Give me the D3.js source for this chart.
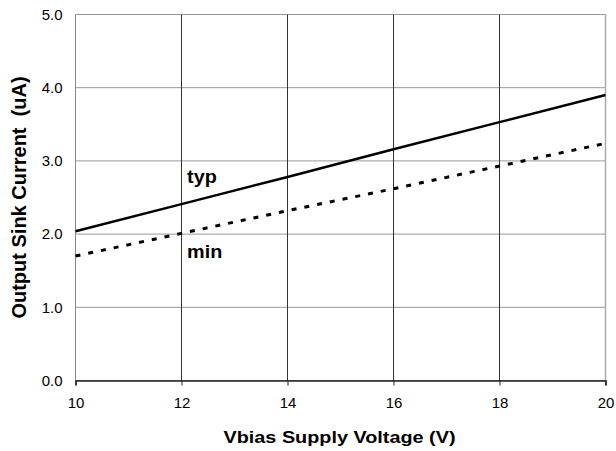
<!DOCTYPE html>
<html>
<head>
<meta charset="utf-8">
<script src="https://cdn.jsdelivr.net/npm/d3@7"></script>
<style>
  html, body { margin: 0; padding: 0; background: #fff; }
  svg { display: block; font-family: "Liberation Sans", Arial, sans-serif; }
</style>
</head>
<body>
<svg id="chart" width="616" height="451"></svg>
<script>
// Supply voltage (V) and sink current (uA)
const voltage = [10, 12, 14, 16, 18, 20];
const typCurrent = [2.04, 2.41, 2.78, 3.16, 3.53, 3.90];
const minCurrent = [1.70, 2.01, 2.32, 2.62, 2.93, 3.24];
const xTicks = [10, 12, 14, 16, 18, 20];
const yTicks = [0, 1, 2, 3, 4, 5];

const margin = { left: 75.5, right: 10.5, top: 14.5, bottom: 70.5 };
const W = 616, H = 451;
const svg = d3.select("#chart");

const x = d3.scaleLinear().domain([10, 20]).range([margin.left, W - margin.right]);
const y = d3.scaleLinear().domain([0, 5]).range([H - margin.bottom, margin.top]);

// horizontal grid (gray)
svg.append("g").selectAll("line").data(yTicks).join("line")
  .attr("x1", x(10)).attr("x2", x(20))
  .attr("y1", d => y(d)).attr("y2", d => y(d))
  .attr("stroke", "#999").attr("stroke-width", 1);

// vertical grid (dark)
svg.append("g").selectAll("line").data(xTicks.slice(1, -1)).join("line")
  .attr("x1", d => x(d)).attr("x2", d => x(d))
  .attr("y1", y(0)).attr("y2", y(5))
  .attr("stroke", "#333").attr("stroke-width", 1);

// frame: left and right edges
svg.append("line").attr("x1", x(10)).attr("x2", x(10)).attr("y1", y(0)).attr("y2", y(5))
  .attr("stroke", "#888").attr("stroke-width", 1);
svg.append("line").attr("x1", x(20)).attr("x2", x(20)).attr("y1", y(0)).attr("y2", y(5))
  .attr("stroke", "#aaa").attr("stroke-width", 1.5);

// x axis
const xAxis = svg.append("g")
  .attr("transform", `translate(0,${y(0)})`)
  .call(d3.axisBottom(x).tickValues(xTicks).tickFormat(d3.format("d")).tickSize(5).tickPadding(12));
xAxis.select(".domain").attr("stroke", "#222").attr("stroke-width", 1.5);
xAxis.selectAll(".tick line").attr("stroke", "#222");
xAxis.selectAll("text").attr("font-size", 15).attr("fill", "#000")
  .attr("font-family", "Liberation Sans, Arial, sans-serif");

// y axis labels
const yAxis = svg.append("g")
  .attr("transform", `translate(${x(10)},0)`)
  .call(d3.axisLeft(y).tickValues(yTicks).tickFormat(d3.format(".1f")).tickSize(0).tickPadding(13));
yAxis.select(".domain").remove();
yAxis.selectAll("text").attr("font-size", 15).attr("fill", "#000")
  .attr("font-family", "Liberation Sans, Arial, sans-serif");

// series
const line = d3.line().x((d, i) => x(voltage[i])).y(d => y(d));
svg.append("path").datum(typCurrent).attr("d", line)
  .attr("fill", "none").attr("stroke", "#000").attr("stroke-width", 2.5);
svg.append("path").datum(minCurrent).attr("d", line)
  .attr("fill", "none").attr("stroke", "#000").attr("stroke-width", 3)
  .attr("stroke-dasharray", "5,8");

// series labels
const seriesLabel = (txt, vx, vy) => svg.append("text")
  .attr("transform", `translate(${x(vx)},${y(vy)}) scale(1.1,1)`)
  .attr("font-size", 18).attr("font-weight", "bold").text(txt);
seriesLabel("typ", 12.105, 2.70);
seriesLabel("min", 12.105, 1.67);

// axis titles
svg.append("text").attr("x", (x(10) + x(20)) / 2 - 1).attr("y", 443)
  .attr("text-anchor", "middle").attr("font-size", 17).attr("font-weight", "bold")
  .attr("textLength", 232).attr("lengthAdjust", "spacingAndGlyphs")
  .text("Vbias Supply Voltage (V)");
svg.append("text")
  .attr("transform", `translate(26,${(y(0) + y(5)) / 2}) rotate(-90)`)
  .attr("text-anchor", "middle").attr("font-size", 20).attr("font-weight", "bold")
  .attr("xml:space", "preserve").style("white-space", "pre")
  .text("Output Sink Current  (uA)");
</script>
</body>
</html>
